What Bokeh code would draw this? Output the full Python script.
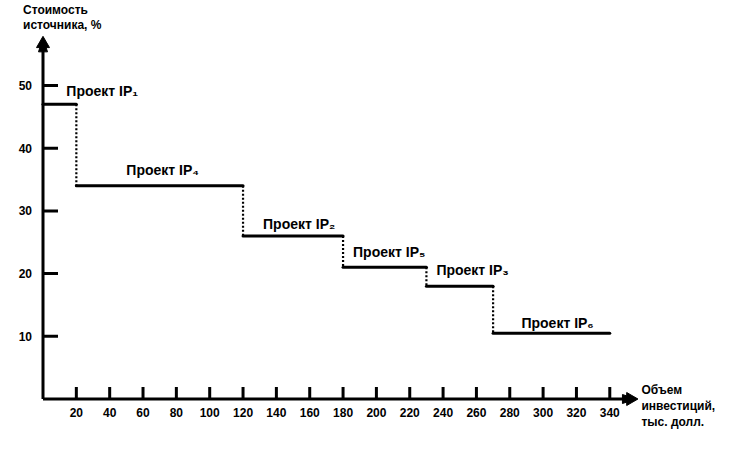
import math
from bokeh.plotting import figure
from bokeh.models import Range1d, ColumnDataSource
from bokeh.core.properties import value
from bokeh.embed import file_html
from bokeh.resources import INLINE

# ---- data ----
x_edges = [0, 20, 120, 180, 230, 270, 340]          # объем инвестиций, тыс. долл.
cost = [47, 34, 26, 21, 18, 10.5]                     # стоимость источника, %
projects = ["Проект IP₁", "Проект IP₄", "Проект IP₂",
            "Проект IP₅", "Проект IP₃", "Проект IP₆"]
x_ticks = [20, 40, 60, 80, 100, 120, 140, 160, 180, 200,
           220, 240, 260, 280, 300, 320, 340]
y_ticks = [10, 20, 30, 40, 50]
y_title = ["Стоимость", "источника, %"]
x_title = ["Объем", "инвестиций,", "тыс. долл."]

# ---- layout / style ----
W, H = 731, 453
X0_PX, Y0_PX = 42.5, 398.5          # pixel position of the origin
PX_X, PX_Y = 1.667, 6.27            # pixels per data unit
X_AXIS_END, Y_AXIS_END = 356.0, 57.6
HEAD_LEN, HEAD_HALF = 14.0, 4.5     # arrow head size in pixels
lbl_x = [14, 50, 132, 186, 236, 287]
lbl_dy = [-13, -16, -12, -15, -16, -10]
FONT = "Liberation Sans"
BLACK = "black"

p = figure(width=W, height=H, output_backend="svg", toolbar_location=None,
           x_range=Range1d(-X0_PX / PX_X, (W - X0_PX) / PX_X),
           y_range=Range1d((Y0_PX - H) / PX_Y, Y0_PX / PX_Y),
           min_border=0, x_axis_type=None, y_axis_type=None)
p.outline_line_color = None

ux = 1.0 / PX_X   # one pixel in x data units
uy = 1.0 / PX_Y   # one pixel in y data units

# arrow heads
p.scatter(x=[X_AXIS_END - 6 * ux, 0.0], y=[0.0, Y_AXIS_END - 6 * uy],
          angle=[-math.pi / 2, 0.0], marker="triangle", size=13,
          fill_color=BLACK, line_color=BLACK)
hx = [[X_AXIS_END, X_AXIS_END - HEAD_LEN * ux, X_AXIS_END - HEAD_LEN * ux],
      [0.0, -HEAD_HALF * ux, HEAD_HALF * ux]]
hy = [[0.0, HEAD_HALF * uy, -HEAD_HALF * uy],
      [Y_AXIS_END, Y_AXIS_END - HEAD_LEN * uy, Y_AXIS_END - HEAD_LEN * uy]]
p.patches(xs=hx, ys=hy, fill_color=BLACK, line_color=BLACK, line_width=1)

# axis lines
p.segment(x0=[0.0, 0.0], y0=[0.0, 0.0], x1=[X_AXIS_END - 4 * ux, 0.0],
          y1=[0.0, Y_AXIS_END - 4 * uy], line_width=3, line_color=BLACK)

# ticks (drawn inward)
p.segment(x0=x_ticks, x1=x_ticks, y0=[0] * len(x_ticks), y1=[12 * uy] * len(x_ticks),
          line_width=3, line_color=BLACK)
p.segment(x0=[0] * len(y_ticks), x1=[15 * ux] * len(y_ticks), y0=y_ticks, y1=y_ticks,
          line_width=3, line_color=BLACK)

# step lines
src_h = ColumnDataSource(dict(x0=x_edges[:-1], x1=x_edges[1:], y=cost))
p.segment(x0="x0", x1="x1", y0="y", y1="y", source=src_h,
          line_width=3, line_color=BLACK, line_cap="round")
src_v = ColumnDataSource(dict(x=x_edges[1:-1], y0=cost[:-1], y1=cost[1:]))
p.segment(x0="x", x1="x", y0="y0", y1="y1", source=src_v,
          line_width=2.2, line_color=BLACK, line_dash="2 2")

# tick labels
p.text(x=x_ticks, y=[0] * len(x_ticks), text=[str(t) for t in x_ticks], y_offset=9,
       text_font=value(FONT), text_font_size="12px", text_font_style="bold",
       text_align="center", text_baseline="top", text_color=BLACK)
p.text(x=[0] * len(y_ticks), y=y_ticks, text=[str(t) for t in y_ticks], x_offset=-11,
       text_font=value(FONT), text_font_size="12px", text_font_style="bold",
       text_align="right", text_baseline="middle", text_color=BLACK)

# project labels
src_t = ColumnDataSource(dict(x=lbl_x, y=cost, t=projects, dy=lbl_dy))
p.text(x="x", y="y", text="t", y_offset="dy", source=src_t,
       text_font=value(FONT), text_font_size="14px", text_font_style="bold",
       text_baseline="middle", text_align="left", text_color=BLACK)

# axis titles
p.text(x=[0] * len(y_title), y=[Y_AXIS_END] * len(y_title), text=y_title,
       x_offset=-20, y_offset=[-28 + 15 * i for i in range(len(y_title))],
       text_font=value(FONT), text_font_size="12px", text_font_style="bold",
       text_baseline="middle", text_align="left", text_color=BLACK)
p.text(x=[X_AXIS_END] * len(x_title), y=[0] * len(x_title), text=x_title,
       x_offset=5, y_offset=[-9 + 16 * i for i in range(len(x_title))],
       text_font=value(FONT), text_font_size="12px", text_font_style="bold",
       text_baseline="middle", text_align="left", text_color=BLACK)

open("out.html", "w").write(file_html(p, INLINE))
